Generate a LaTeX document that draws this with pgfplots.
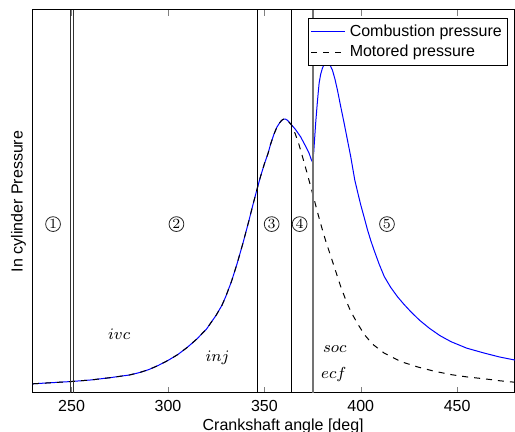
\documentclass[border=0pt]{standalone}
\usepackage{fontspec}
\setmainfont{Liberation Sans}
\usepackage{pgfplots}
\pgfplotsset{compat=1.18}
\newfontfamily\lmroman{Latin Modern Roman}
\begin{document}
\begin{tikzpicture}[cnum/.style={circle, draw=black!85, line width=0.4pt, inner sep=0pt, minimum size=7.4pt, font=\lmroman\fontsize{7}{8}\selectfont}]
\begin{axis}[
  scale only axis,
  width=241pt, height=191.5pt,
  xmin=230, xmax=480, ymin=0, ymax=1,
  xtick={250,300,350,400,450},
  ytick=\empty,
  tick align=inside,
  xtick pos=both,
  major tick length=3pt,
  /pgf/number format/assume math mode=true,
  tick label style={font=\fontsize{8}{9.6}\selectfont},
  label style={font=\fontsize{8}{9.6}\selectfont},
  xlabel={Crankshaft angle [deg]},
  ylabel={In cylinder Pressure},
  xlabel style={at={(axis description cs:0.519,0)}, anchor=north, yshift=-9.3pt},
  ylabel style={at={(axis description cs:0,0.5)}, anchor=south, rotate=0},
  axis line style={line width=0.5pt},
  legend style={at={(0.986,0.979)}, anchor=north east, font=\fontsize{8}{9.6}\selectfont,
    inner sep=1pt, row sep=-1pt, cells={anchor=west}},
  legend cell align=left,
  clip=true,
]
% combustion pressure
\addplot[color=blue, line width=0.5pt,
  legend image code/.code={\draw[blue, line width=0.6pt] (0cm,0cm) -- (0.6cm,0cm);}] coordinates {
(230,.024) (240,.027) (250,.030) (260,.034) (270,.040) (280,.047) (285,.053) (290,.061)
(295,.072) (300,.085) (305,.100) (310,.119) (315,.141) (320,.167) (325,.203) (328,.229)
(330,.252) (333,.292) (336,.340) (339,.393) (342,.450) (344,.490) (346.3,.534) (348,.565)
(350,.598) (352,.627) (353.2,.649) (355,.676) (356.5,.694) (358,.706) (359,.712) (360,.715)
(361,.715) (362,.712) (363.6,.703) (366,.689) (368.8,.669) (371,.648) (373.2,.626)
(374.3,.610) (374.9,.604) (375.6,.628) (376.6,.704) (377.5,.760) (378.4,.809) (379.2,.832)
(380.1,.848) (381.2,.860) (382.4,.865) (383.8,.859) (385.3,.843) (386.6,.820) (387.9,.791)
(389.6,.748) (391.4,.704) (393,.663) (394.8,.617) (396.9,.556) (398.5,.522) (400,.491)
(401.8,.458) (403.5,.426) (405.2,.398) (406.9,.373) (409.5,.337) (412.2,.304) (415.5,.276)
(419.1,.251) (422.5,.231) (426,.212) (430.5,.190) (435.6,.169) (441,.150) (446.8,.134)
(455,.117) (464.2,.104) (472,.094) (480,.086)
};
\addlegendentry{Combustion pressure}
% motored pressure
\addplot[color=black, dashed, line width=0.5pt] coordinates {
(230,.024) (240,.027) (250,.030) (260,.034) (270,.040) (280,.047) (285,.053) (290,.061)
(295,.072) (300,.085) (305,.100) (310,.119) (315,.141) (320,.167) (325,.203) (328,.229)
(330,.252) (333,.292) (336,.340) (339,.393) (342,.450) (344,.490) (346.3,.534) (348,.565)
(350,.598) (352,.627) (353.2,.649) (355,.676) (356.5,.694) (358,.706) (359,.712) (360,.715)
(361,.715) (362,.712) (364,.700) (366,.677) (368,.648) (370,.613) (372,.577) (374,.540)
(376,.502) (378,.464) (380,.428) (382,.394) (384.4,.358) (387,.318) (389.6,.278) (392,.246)
(394.8,.213) (398,.184) (401.8,.153) (406,.128) (412.2,.104) (420.8,.082) (429.5,.068)
(438,.057) (446.8,.048) (455,.042) (464.2,.037) (472,.032) (480,.028)
};
\addlegendentry{Motored pressure}
% event lines
\addplot[black!80, line width=0.4pt, forget plot] coordinates {(249.2,0) (249.2,1)};
\addplot[black!80, line width=0.4pt, forget plot] coordinates {(251,0) (251,1)};
\addplot[black, line width=0.4pt, forget plot] coordinates {(346.3,0) (346.3,1)};
\addplot[black, line width=0.4pt, forget plot] coordinates {(363.8,0) (363.8,1)};
\addplot[black!55, line width=0.9pt, forget plot] coordinates {(375.1,0) (375.1,1)};
% region labels
\node[cnum] at (axis cs:240.4,0.441) {1};
\node[cnum] at (axis cs:304.4,0.441) {2};
\node[cnum] at (axis cs:353.8,0.441) {3};
\node[cnum] at (axis cs:368.3,0.441) {4};
\node[cnum] at (axis cs:413.6,0.441) {5};
\node[font=\fontsize{8.5}{10}\selectfont] at (axis cs:274.7,0.154) {$ivc$};
\node[font=\fontsize{8.5}{10}\selectfont] at (axis cs:325.7,0.091) {$inj$};
\node[font=\fontsize{8.5}{10}\selectfont] at (axis cs:386.5,0.115) {$soc$};
\node[font=\fontsize{8.5}{10}\selectfont] at (axis cs:386,0.047) {$ecf$};
\coordinate (SW) at (rel axis cs:0,0);
\coordinate (NE) at (rel axis cs:1,1);
\end{axis}
\pgfresetboundingbox
\path ([shift={(-16.5pt,-19.5pt)}]SW) rectangle ([shift={(0pt,5pt)}]NE);
\end{tikzpicture}
\end{document}
